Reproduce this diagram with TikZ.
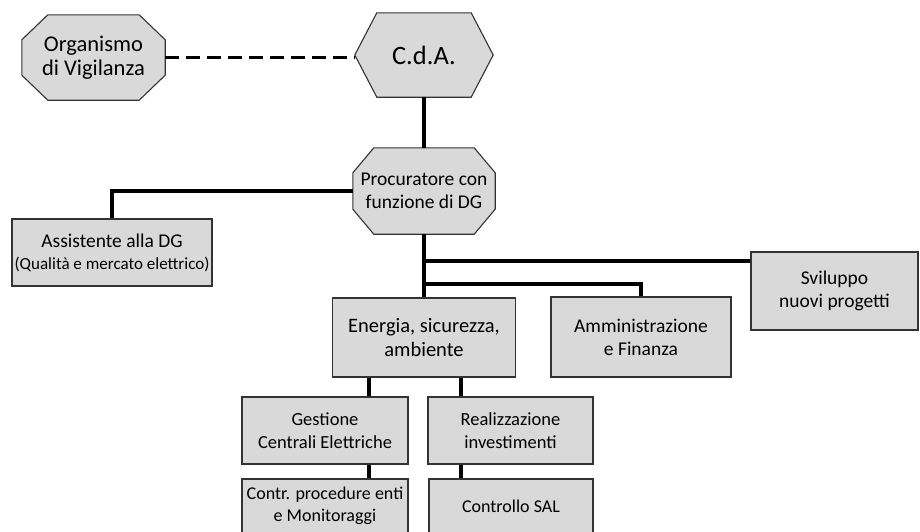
\documentclass[tikz,border=0pt]{standalone}
\usepackage{fontspec}
\setmainfont{Carlito}
\usetikzlibrary{backgrounds}
\definecolor{OrgFill}{HTML}{D9D9D9}
\definecolor{OrgEdge}{HTML}{333333}

\tikzset{
  unit/.style={inner sep=0pt,align=center,font=\fontsize{19.5}{23}\selectfont},
  unitbox/.style={unit,draw=OrgEdge,fill=OrgFill,line width=1.1pt},
  unitshape/.style={draw=OrgEdge,fill=OrgFill,line width=1.1pt},
  link/.style={line width=3.5pt,black},
}

\begin{document}
\begin{tikzpicture}[x=1pt,y=-1pt]
\clip (0,0) rectangle (920,531);
% vertice
\node[unit,minimum width=143pt,minimum height=85pt,font=\fontsize{22.5}{24.5}\selectfont] (odv) at (93.5,57.5) {Organismo\\di Vigilanza};
\node[unit,minimum width=138pt,minimum height=84pt,font=\fontsize{26.5}{30}\selectfont] (cda) at (424,55) {C.d.A.};
\node[unit,minimum width=142pt,minimum height=86pt] (proc) at (424,191) {Procuratore con\\funzione di DG};
% staff e funzioni
\node[unitbox,minimum width=200pt,minimum height=67pt] (assist) at (112,252.5) {Assistente alla DG\\[-1pt]{\fontsize{17}{20}\selectfont(Qualità e mercato elettrico)}};
\node[unitbox,minimum width=167pt,minimum height=78pt] (svil) at (834.5,291) {Sviluppo\\nuovi progetti};
\node[unitbox,minimum width=183pt,minimum height=79pt,font=\fontsize{20.5}{24}\selectfont] (esa) at (424,337.5) {Energia, sicurezza,\\ambiente};
\node[unitbox,minimum width=180pt,minimum height=80pt] (amm) at (641,337) {Amministrazione\\e Finanza};
\node[unitbox,minimum width=166pt,minimum height=67pt,font=\fontsize{18.5}{23}\selectfont] (gce) at (325,430.5) {Gestione\\Centrali Elettriche};
\node[unitbox,minimum width=165pt,minimum height=67pt,font=\fontsize{18.5}{23}\selectfont] (rinv) at (510.5,430.5) {Realizzazione\\investimenti};
\node[unitbox,minimum width=166pt,minimum height=54pt,font=\fontsize{18}{22}\selectfont] (cpe) at (325,506) {Contr. procedure enti\\e Monitoraggi};
\node[unitbox,minimum width=164pt,minimum height=54pt,font=\fontsize{18}{22}\selectfont] (sal) at (511,506) {Controllo SAL};

\begin{scope}[on background layer]
\path[unitshape] ([xshift=26pt]odv.north west) -- ([xshift=-26pt]odv.north east)
  -- ([yshift=-25pt]odv.north east) -- ([yshift=25pt]odv.south east)
  -- ([xshift=-26pt]odv.south east) -- ([xshift=26pt]odv.south west)
  -- ([yshift=25pt]odv.south west) -- ([yshift=-25pt]odv.north west) -- cycle;
\path[unitshape] (cda.west) -- ([xshift=22pt]cda.north west) -- ([xshift=-22pt]cda.north east)
  -- (cda.east) -- ([xshift=-22pt]cda.south east) -- ([xshift=22pt]cda.south west) -- cycle;
\path[unitshape] ([xshift=21pt]proc.north west) -- ([xshift=-21pt]proc.north east)
  -- ([yshift=-25pt]proc.north east) -- ([yshift=25pt]proc.south east)
  -- ([xshift=-21pt]proc.south east) -- ([xshift=21pt]proc.south west)
  -- ([yshift=25pt]proc.south west) -- ([yshift=-25pt]proc.north west) -- cycle;
\end{scope}

% collegamenti
\coordinate (br1) at (424,261);
\coordinate (br2) at (424,284);
\coordinate (xg) at (369,0);
\coordinate (xr) at (461,0);
\draw[link,dash pattern=on 14pt off 7pt] (odv.east) -- (odv.east -| cda.west);
\draw[link] (cda.south) -- (proc.north);
\draw[link] (proc.west) -| (assist.north);
\draw[link] (proc.south) -- (esa.north);
\draw[link] (br1) -- (br1 -| svil.west);
\draw[link] (br2) -| (amm.north);
\draw[link] (esa.south -| xg) -- (gce.north -| xg);
\draw[link] (esa.south -| xr) -- (rinv.north -| xr);
\draw[link] (gce.south -| xg) -- (cpe.north -| xg);
\draw[link] (rinv.south -| xr) -- (sal.north -| xr);
\end{tikzpicture}
\end{document}
